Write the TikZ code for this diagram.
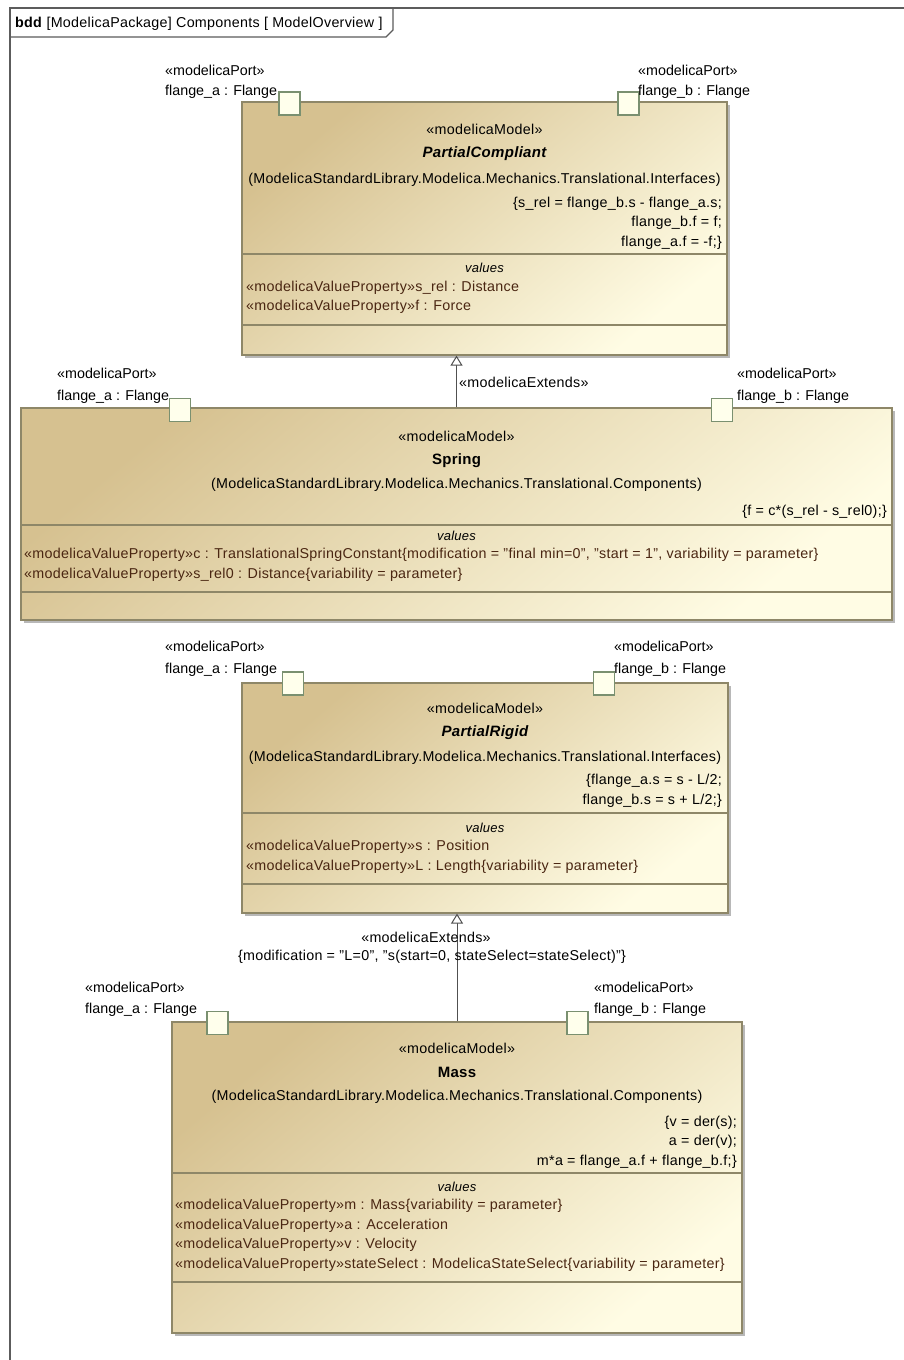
\documentclass[tikz,border=0pt]{standalone}
\usepackage{fontspec}
\setmainfont{Liberation Sans}[LetterSpace=2.0]
\newfontfamily\plainlabel{Liberation Sans}
\usetikzlibrary{arrows.meta,shadows}
\definecolor{boxdark}{HTML}{D6C190}
\definecolor{boxlight}{HTML}{FFFCE4}
\definecolor{boxedge}{HTML}{8E8768}
\definecolor{portedge}{HTML}{7A9070}
\definecolor{portfill}{HTML}{FFFFEC}
\definecolor{propcol}{HTML}{4A2612}
\definecolor{framecol}{HTML}{5C5C5C}
\definecolor{linecol}{HTML}{505050}
\tikzset{
  umlbox/.style={rectangle, draw=boxedge, line width=1.2pt, inner sep=0pt,
    top color=boxdark, bottom color=boxlight, shading angle=40,
    drop shadow={shadow xshift=3pt, shadow yshift=-3pt, fill=black!28, opacity=1}},
  portbox/.style={rectangle, draw=portedge, line width=1.2pt, fill=portfill,
    inner sep=0pt, minimum width=21pt, minimum height=23pt},
  cline/.style={draw=boxedge, line width=1.2pt},
  txt/.style={inner sep=0pt, font=\fontsize{14.3}{17}\selectfont},
  plbl/.style={inner sep=0pt, anchor=base west, font=\plainlabel\fontsize{14.3}{17}\selectfont},
  prop/.style={txt, text=propcol, anchor=base west},
  eqn/.style={txt, anchor=base east},
  ctr/.style={txt, anchor=base},
  valtxt/.style={inner sep=0pt, anchor=base, font=\fontsize{13}{15}\selectfont\itshape},
  ext/.style={draw=linecol, line width=1pt,
    -{Triangle[open, length=10pt, width=12pt, fill=white]}},
  framestyle/.style={draw=framecol, line width=1.3pt}
}
\begin{document}
\begin{tikzpicture}[x=1pt,y=-1pt]
\useasboundingbox (0,0) rectangle (904,1360);
\fill[white] (0,0) rectangle (904,1360);
% frame
\draw[framestyle] (10,1375) -- (10,8) -- (920,8);
\draw[framestyle] (10,37) -- (386,37) -- (393,30) -- (393,8);
\node[txt, anchor=base west] (hdr) at (15,27) {\textbf{bdd} [ModelicaPackage] Components [ ModelOverview ]};

% ---------------- PartialCompliant ----------------
\node[umlbox, minimum width=485pt, minimum height=253pt] (pc) at (484.5,228.5) {};
\draw[cline] (242,254) -- (727,254);
\draw[cline] (242,325) -- (727,325);
\node[portbox] (pca) at (289.5,103.5) {};
\node[portbox] (pcb) at (628.5,103.5) {};
\node[plbl] (pcal1) at (165,75) {«modelicaPort»};
\node[plbl] (pcal2) at (165,95) {flange\_a : Flange};
\node[plbl] (pcbl1) at (638,75) {«modelicaPort»};
\node[plbl] (pcbl2) at (638,95) {flange\_b : Flange};
\node[ctr] (pcst) at (484.5,134) {«modelicaModel»};
\node[ctr, font=\fontsize{15}{17}\selectfont\bfseries\itshape] (pcname) at (484.5,157) {PartialCompliant};
\node[ctr] (pcpath) at (484.5,183) {(ModelicaStandardLibrary.Modelica.Mechanics.Translational.Interfaces)};
\node[eqn] (pceq1) at (722,207) {\{s\_rel = flange\_b.s - flange\_a.s;};
\node[eqn] (pceq2) at (722,226) {flange\_b.f = f;};
\node[eqn] (pceq3) at (722,246) {flange\_a.f = -f;\}};
\node[valtxt] (pcval) at (484.5,272) {values};
\node[prop] (pcp1) at (246,291) {«modelicaValueProperty»s\_rel : Distance};
\node[prop] (pcp2) at (246,310) {«modelicaValueProperty»f : Force};

% ---------------- Spring ----------------
\node[umlbox, minimum width=871pt, minimum height=212pt] (spring) at (456.5,514) {};
\draw[cline] (21,525) -- (892,525);
\draw[cline] (21,592) -- (892,592);
\node[portbox] (spa) at (180,410) {};
\node[portbox] (spb) at (722,410) {};
\node[plbl] (spal1) at (57,378) {«modelicaPort»};
\node[plbl] (spal2) at (57,400) {flange\_a : Flange};
\node[plbl] (spbl1) at (737,378) {«modelicaPort»};
\node[plbl] (spbl2) at (737,400) {flange\_b : Flange};
\node[ctr] (spst) at (456.5,441) {«modelicaModel»};
\node[ctr, font=\fontsize{15}{17}\selectfont\bfseries] (spname) at (456.5,464) {Spring};
\node[ctr] (sppath) at (456.5,488) {(ModelicaStandardLibrary.Modelica.Mechanics.Translational.Components)};
\node[eqn] (speq1) at (887,515) {\{f = c*(s\_rel - s\_rel0);\}};
\node[valtxt] (spval) at (456.5,540) {values};
\node[prop] (spp1) at (24,558) {«modelicaValueProperty»c : TranslationalSpringConstant\{modification = "final min=0", "start = 1", variability = parameter\}};
\node[prop] (spp2) at (24,578) {«modelicaValueProperty»s\_rel0 : Distance\{variability = parameter\}};

\draw[ext] (spring.north) -- (spring.north |- pc.south);
\node[txt, anchor=base west] (ext1) at (459,387) {«modelicaExtends»};

% ---------------- PartialRigid ----------------
\node[umlbox, minimum width=486pt, minimum height=230pt] (pr) at (485,798) {};
\draw[cline] (242,813) -- (728,813);
\draw[cline] (242,884) -- (728,884);
\node[portbox] (pra) at (293,683.5) {};
\node[portbox] (prb) at (604,683.5) {};
\node[plbl] (pral1) at (165,651) {«modelicaPort»};
\node[plbl] (pral2) at (165,673) {flange\_a : Flange};
\node[plbl] (prbl1) at (614,651) {«modelicaPort»};
\node[plbl] (prbl2) at (614,673) {flange\_b : Flange};
\node[ctr] (prst) at (485,713) {«modelicaModel»};
\node[ctr, font=\fontsize{15}{17}\selectfont\bfseries\itshape] (prname) at (485,736) {PartialRigid};
\node[ctr] (prpath) at (485,761) {(ModelicaStandardLibrary.Modelica.Mechanics.Translational.Interfaces)};
\node[eqn] (preq1) at (722,784) {\{flange\_a.s = s - L/2;};
\node[eqn] (preq2) at (722,804) {flange\_b.s = s + L/2;\}};
\node[valtxt] (prval) at (485,832) {values};
\node[prop] (prp1) at (246,850) {«modelicaValueProperty»s : Position};
\node[prop] (prp2) at (246,870) {«modelicaValueProperty»L : Length\{variability = parameter\}};

% ---------------- Mass ----------------
\node[umlbox, minimum width=570pt, minimum height=311pt] (mass) at (457,1177.5) {};
\draw[cline] (172,1173) -- (742,1173);
\draw[cline] (172,1282) -- (742,1282);
\node[portbox] (maa) at (217.5,1023) {};
\node[portbox] (mab) at (577.5,1023) {};
\node[plbl] (maal1) at (85,992) {«modelicaPort»};
\node[plbl] (maal2) at (85,1013) {flange\_a : Flange};
\node[plbl] (mabl1) at (594,992) {«modelicaPort»};
\node[plbl] (mabl2) at (594,1013) {flange\_b : Flange};
\node[ctr] (mast) at (457,1053) {«modelicaModel»};
\node[ctr, font=\fontsize{15}{17}\selectfont\bfseries] (maname) at (457,1077) {Mass};
\node[ctr] (mapath) at (457,1100) {(ModelicaStandardLibrary.Modelica.Mechanics.Translational.Components)};
\node[eqn] (maeq1) at (737,1126) {\{v = der(s);};
\node[eqn] (maeq2) at (737,1145) {a = der(v);};
\node[eqn] (maeq3) at (737,1165) {m*a = flange\_a.f + flange\_b.f;\}};
\node[valtxt] (maval) at (457,1191) {values};
\node[prop] (map1) at (175,1209) {«modelicaValueProperty»m : Mass\{variability = parameter\}};
\node[prop] (map2) at (175,1229) {«modelicaValueProperty»a : Acceleration};
\node[prop] (map3) at (175,1248) {«modelicaValueProperty»v : Velocity};
\node[prop] (map4) at (175,1268) {«modelicaValueProperty»stateSelect : ModelicaStateSelect\{variability = parameter\}};

\draw[ext] (mass.north) -- (mass.north |- pr.south);
\node[ctr] (ext2a) at (426,942) {«modelicaExtends»};
\node[ctr] (ext2b) at (432,960) {\{modification = "L=0", "s(start=0, stateSelect=stateSelect)"\}};
\end{tikzpicture}
\end{document}
